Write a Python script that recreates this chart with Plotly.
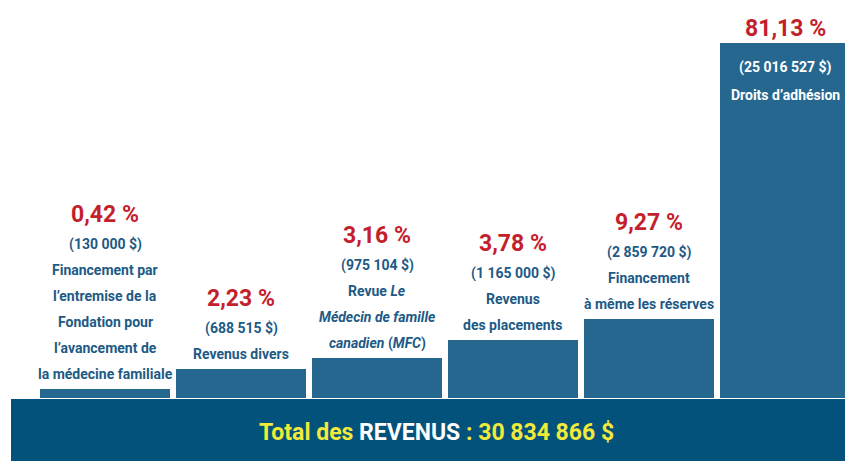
import plotly.graph_objects as go

# ---- data ----
categories = [
    "Financement par l’entremise de la Fondation pour l’avancement de la médecine familiale",
    "Revenus divers",
    "Revue Le Médecin de famille canadien (MFC)",
    "Revenus des placements",
    "Financement à même les réserves",
    "Droits d’adhésion",
]
pct_labels = ["0,42 %", "2,23 %", "3,16 %", "3,78 %", "9,27 %", "81,13 %"]
amount_labels = ["(130 000 $)", "(688 515 $)", "(975 104 $)", "(1 165 000 $)",
                 "(2 859 720 $)", "(25 016 527 $)"]
name_lines = [
    ["Financement par", "l’entremise de la", "Fondation pour",
     "l’avancement de", "la médecine familiale"],
    ["Revenus divers"],
    ["Revue <i>Le</i>", "<i>Médecin de famille</i>", "<i>canadien</i> (<i>MFC</i>)"],
    ["Revenus", "des placements"],
    ["Financement", "à même les réserves"],
    ["Droits d’adhésion"],
]
# displayed bar heights (as drawn in the picture, not proportional)
bar_heights = [9, 29, 40, 58, 79, 355]
total_label = "Total des REVENUS : 30 834 866 $"

# ---- styling ----
FONT = "Roboto, Liberation Sans, sans-serif"
BAR = "#26678f"
BAND = "#03527b"
RED = "#c41f2d"
BLUE = "#1d5a85"
YELLOW = "#f1ea3a"

x = list(range(len(categories)))

fig = go.Figure(go.Bar(
    x=x, y=bar_heights, marker=dict(color=BAR, line=dict(width=0)),
    width=0.956, hoverinfo="skip",
))

ann = []
for i in x:
    top = bar_heights[i]
    if i == len(categories) - 1:
        ann.append(dict(x=i, y=top, yshift=15, text="<b>%s</b>" % pct_labels[i],
                        font=dict(family=FONT, size=23, color=RED)))
        lines = [amount_labels[i]] + name_lines[i]
        for k, ln in enumerate(lines):
            ann.append(dict(x=i, y=top, yshift=-24 - 28 * k, text="<b>%s</b>" % ln,
                            font=dict(family=FONT, size=14, color="white")))
    else:
        lines = [amount_labels[i]] + name_lines[i]
        n = len(lines)
        for k, ln in enumerate(lines):
            shift = 15 + 26 * (n - 1 - k)
            ann.append(dict(x=i, y=top, yshift=shift, text="<b>%s</b>" % ln,
                            font=dict(family=FONT, size=14, color=BLUE)))
        pshift = 15 + 26 * (n - 1) + 30
        ann.append(dict(x=i, y=top, yshift=pshift, text="<b>%s</b>" % pct_labels[i],
                        font=dict(family=FONT, size=23, color=RED)))

for a in ann:
    a.update(xref="x", yref="y", showarrow=False, xanchor="center", yanchor="middle")

ann.append(dict(xref="paper", yref="paper", x=436 / 845, y=(461 - 432) / 461,
                xanchor="center", yanchor="middle", showarrow=False,
                text="<b><span style='color:%s'>Total des </span>"
                     "<span style='color:white'>REVENUS</span>"
                     "<span style='color:%s'> : 30 834 866 $</span></b>" % (YELLOW, YELLOW),
                font=dict(family=FONT, size=23, color=YELLOW)))

fig.update_layout(
    width=845, height=461,
    margin=dict(l=0, r=0, t=0, b=0),
    paper_bgcolor="white", plot_bgcolor="white",
    showlegend=False,
    bargap=0,
    xaxis=dict(range=[-0.772, 5.441], visible=False, fixedrange=True),
    yaxis=dict(range=[-63, 398], visible=False, fixedrange=True),
    shapes=[dict(type="rect", xref="paper", yref="y", x0=11 / 845, x1=1,
                 y0=-63, y1=-1, fillcolor=BAND, line=dict(width=0), layer="below")],
    annotations=ann,
)

fig.write_html("out.html", config={"displayModeBar": False},
               post_script="document.body.style.margin='0';"
                           "document.body.style.overflow='hidden';")
